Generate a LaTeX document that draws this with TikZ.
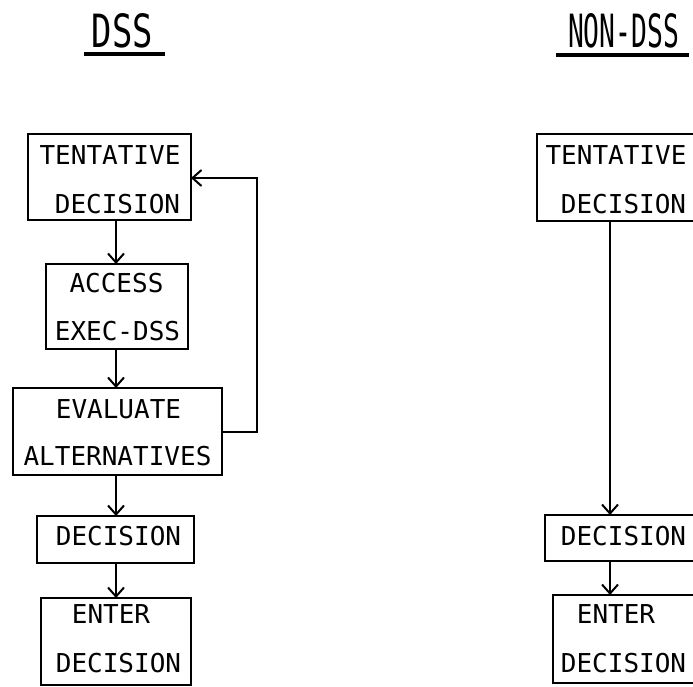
\documentclass[tikz,border=0pt]{standalone}
\usepackage{fontspec}
\setmonofont{DejaVu Sans Mono}
\usetikzlibrary{arrows.meta}
\begin{document}
\begin{tikzpicture}[x=1pt,y=-1pt,
  box/.style={draw, line width=2.1pt, rectangle, inner sep=0pt, outer sep=0pt},
  lbl/.style={anchor=base, inner sep=0pt, font=\fontsize{26}{30}\selectfont\ttfamily},
  ttl/.style={anchor=base, inner sep=0pt, font=\ttfamily},
  arr/.style={line width=2pt, -{Straight Barb[length=9pt,width=16pt,line width=2pt]}},
  uline/.style={line width=3.2pt}]
\useasboundingbox (0,0) rectangle (693,687);
\clip (0,0) rectangle (693,687);
% titles
\node[ttl] (tdss) at (122.5,48) {\resizebox{61pt}{34pt}{DSS}};
\node[ttl] (tnon) at (623.5,48) {\resizebox{111pt}{34pt}{NON-DSS}};
\coordinate (u1a) at (84,54); \coordinate (u1b) at (165,54);
\coordinate (u2a) at (556,55); \coordinate (u2b) at (689,55);
\draw[uline] (u1a) -- (u1b);
\draw[uline] (u2a) -- (u2b);
% left column boxes
\node[box, minimum width=163pt, minimum height=86pt] (tent) at (109.5,177) {};
\node[lbl] (tent1) at (110,165) {TENTATIVE};
\node[lbl] (tent2) at (117.5,213) {DECISION};
\node[box, minimum width=142pt, minimum height=85pt] (acc) at (117,306.5) {};
\node[lbl] (acc1) at (116.5,292) {ACCESS};
\node[lbl] (acc2) at (117.5,340) {EXEC-DSS};
\node[box, minimum width=209pt, minimum height=87pt] (eval) at (117.5,431.5) {};
\node[lbl] (eval1) at (118.5,418) {EVALUATE};
\node[lbl] (eval2) at (117.5,465) {ALTERNATIVES};
\node[box, minimum width=157pt, minimum height=47pt] (dec) at (115.5,539.5) {};
\node[lbl] (dec1) at (118.5,545) {DECISION};
\node[box, minimum width=150pt, minimum height=87pt] (ent) at (116,641.5) {};
\node[lbl] (ent1) at (111,623) {ENTER};
\node[lbl] (ent2) at (118.5,672) {DECISION};
% left connectors
\coordinate (colL) at (116,0);
\draw[arr] (tent.south -| colL) -- (acc.north -| colL);
\draw[arr] (acc.south -| colL) -- (eval.north -| colL);
\draw[arr] (eval.south -| colL) -- (dec.north -| colL);
\draw[arr] (dec.south -| colL) -- (ent.north -| colL);
\coordinate (fb) at (257,178);
\draw[arr] (eval.east) -| (fb) -- (tent.east |- fb);
% right column
\node[box, minimum width=172pt, minimum height=87pt] (rtent) at (623,177.5) {};
\node[lbl] (rtent1) at (616,165) {TENTATIVE};
\node[lbl] (rtent2) at (623.5,213) {DECISION};
\node[box, minimum width=156pt, minimum height=46pt] (rdec) at (623,538) {};
\node[lbl] (rdec1) at (623.5,545) {DECISION};
\node[box, minimum width=147pt, minimum height=88pt] (rent) at (626.5,639) {};
\node[lbl] (rent1) at (616,623) {ENTER};
\node[lbl] (rent2) at (623.5,672) {DECISION};
\coordinate (colR) at (610,0);
\draw[arr] (rtent.south -| colR) -- (rdec.north -| colR);
\draw[arr] (rdec.south -| colR) -- (rent.north -| colR);
\end{tikzpicture}
\end{document}
